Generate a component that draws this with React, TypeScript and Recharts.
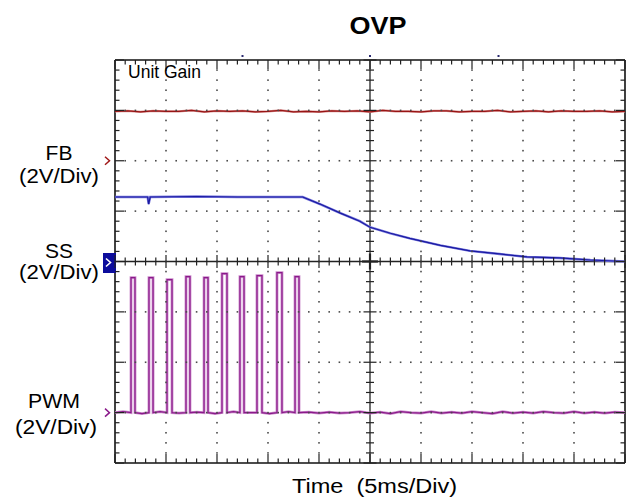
import React from 'react';
import {
  ComposedChart,
  Line,
  XAxis,
  YAxis,
  ReferenceLine,
  ReferenceDot
} from 'recharts';

const FONT = '"Liberation Sans", Arial, Helvetica, sans-serif';

// chart box and plot area (the chart margins below give this plot rectangle)
const W = 638;
const H = 502;
const PLOT = { left: 115, top: 60, right: 625, bottom: 463 };

// scope screen: 10 time divisions of 5 ms, 8 vertical divisions
const TIME_DIVS = [0, 5, 10, 15, 20, 25, 30, 35, 40, 45, 50];
const VOLT_DIVS = [0, 1, 2, 3, 4, 5, 6, 7, 8];

// channel ground markers (in divisions)
const FB_LEVEL = 6;
const SS_LEVEL = 4;
const PWM_LEVEL = 1;

// FB trace, sampled every 1.25 ms
const FB_STEP = 1.25;
const fbValues = [
  6.98, 6.99, 6.97, 6.99, 6.98, 6.98, 7.0, 6.97, 6.99, 6.98, 6.99,
  6.97, 6.98, 7.0, 6.97, 6.98, 6.97, 6.99, 6.98, 6.99, 6.97,
  7.0, 6.98, 6.98, 6.97, 6.99, 6.99, 6.97, 6.98, 6.98, 7.0,
  6.97, 6.98, 6.99, 6.97, 6.99, 6.98, 6.98, 6.99, 6.97, 6.98
];

// SS trace: flat, then discharges once PWM stops
const ssTimes = [0, 3.2, 3.3, 3.45, 8, 12, 18.4, 20.1, 22.1, 24, 25, 27, 28.9, 31.9, 34.8, 37.7, 40.4, 43.6, 46.6, 50];
const ssValues = [5.28, 5.28, 5.14, 5.28, 5.29, 5.28, 5.28, 5.14, 4.96, 4.8, 4.68, 4.56, 4.46, 4.32, 4.21, 4.15, 4.09, 4.07, 4.03, 4.0];

// PWM pulses (ms)
const pwmRise = [1.57, 3.33, 5.1, 6.96, 8.73, 10.49, 12.25, 13.92, 15.88, 17.65];
const pwmFall = [1.96, 3.73, 5.59, 7.35, 9.12, 10.98, 12.65, 14.41, 16.37, 18.04];
const pwmHigh = [3.68, 3.68, 3.64, 3.7, 3.68, 3.76, 3.7, 3.72, 3.78, 3.7];
const pwmGapLow = [1.02, 0.98, 1.02, 0.99, 1.01, 0.98, 1.02, 1.0, 0.98, 1.02];
const pwmTailTimes = [19, 20, 21, 22, 23, 24, 25, 26, 27, 28, 29, 30, 31, 32, 33, 34, 35, 36, 37, 38, 39, 40, 41, 42, 43, 44, 45, 46, 47, 48, 49, 50];
const pwmTailValues = [
  1.01, 0.99, 1.01, 0.99, 1.0, 1.02, 0.99, 1.01, 0.98, 1.02, 1.0,
  0.99, 1.02, 0.99, 1.01, 0.99, 1.02, 1.0, 0.98, 1.02, 0.99, 1.01,
  0.99, 1.02, 1.0, 0.99, 1.02, 0.99, 1.01, 0.99, 1.01, 1.0
];

const fbData = fbValues.map((v, i) => ({ t: i * FB_STEP, v }));
const ssData = ssTimes.map((t, i) => ({ t, v: ssValues[i] }));

const pwmData: { t: number; v: number }[] = [{ t: 0, v: PWM_LEVEL }];
pwmRise.forEach((rise, i) => {
  const prevFall = i === 0 ? 0 : pwmFall[i - 1];
  pwmData.push({ t: (prevFall + rise) / 2, v: pwmGapLow[i] });
  pwmData.push({ t: rise, v: PWM_LEVEL });
  pwmData.push({ t: rise, v: pwmHigh[i] });
  pwmData.push({ t: pwmFall[i], v: pwmHigh[i] });
  pwmData.push({ t: pwmFall[i], v: PWM_LEVEL });
});
pwmTailTimes.forEach((t, i) => pwmData.push({ t, v: pwmTailValues[i] }));

// dotted graticule: one dot per minor step on every inner division line
const gridDots: { t: number; v: number }[] = [];
TIME_DIVS.filter((t) => t !== 0 && t !== 25 && t !== 50).forEach((t) => {
  for (let j = 1; j < 40; j++) gridDots.push({ t, v: j / 5 });
});
VOLT_DIVS.filter((v) => v !== 0 && v !== 4 && v !== 8).forEach((v) => {
  for (let i = 1; i < 50; i++) if (i % 5 !== 0) gridDots.push({ t: i, v });
});

// graticule tick marks on the frame and the centre cross (minor every 1/5 division)
const graticuleTicks = () => {
  const out: React.ReactElement[] = [];
  const pw = PLOT.right - PLOT.left;
  const ph = PLOT.bottom - PLOT.top;
  const cx = PLOT.left + pw / 2;
  const cy = PLOT.top + ph / 2;
  for (let i = 0; i <= 50; i++) {
    const x = PLOT.left + (pw * i) / 50;
    const major = i % 5 === 0;
    const e = major ? 9 : 4.5;
    const c = major ? 6.5 : 4;
    out.push(<line key={`b${i}`} x1={x} y1={PLOT.bottom} x2={x} y2={PLOT.bottom - e} />);
    out.push(<line key={`t${i}`} x1={x} y1={PLOT.top} x2={x} y2={PLOT.top + e} />);
    out.push(<line key={`h${i}`} x1={x} y1={cy - c} x2={x} y2={cy + c} />);
  }
  for (let j = 0; j <= 40; j++) {
    const y = PLOT.bottom - (ph * j) / 40;
    const major = j % 5 === 0;
    const e = major ? 9 : 4.5;
    const c = major ? 6.5 : 4;
    out.push(<line key={`l${j}`} x1={PLOT.left} y1={y} x2={PLOT.left + e} y2={y} />);
    out.push(<line key={`r${j}`} x1={PLOT.right} y1={y} x2={PLOT.right - e} y2={y} />);
    out.push(<line key={`v${j}`} x1={cx - c} y1={y} x2={cx + c} y2={y} />);
  }
  out.push(<line key="cx1" x1={cx - 8} y1={cy} x2={cx + 8} y2={cy} strokeWidth={2.2} />);
  out.push(<line key="cx2" x1={cx} y1={cy - 8} x2={cx} y2={cy + 8} strokeWidth={2.2} />);
  return out;
};

const GridDot = (props: any) => {
  const { cx, cy } = props;
  const key = `gd-${cx}-${cy}`;
  if (cx == null || cy == null) return <g key={key} />;
  return <rect key={key} x={cx - 0.8} y={cy - 0.8} width={1.6} height={1.6} fill="#4a4a4a" />;
};

const Chevron = ({ cx, cy, color }: any) => (
  <polyline
    points={`${cx - 10},${cy - 4} ${cx - 5.5},${cy} ${cx - 10},${cy + 4}`}
    fill="none"
    stroke={color}
    strokeWidth={1.5}
  />
);

const SsMarker = ({ cx, cy }: any) => (
  <g>
    <rect x={cx - 12} y={cy - 8.5} width={13} height={20} fill="#0c0c9c" />
    <polyline
      points={`${cx - 9},${cy - 3} ${cx - 4.5},${cy + 1} ${cx - 9},${cy + 5}`}
      fill="none"
      stroke="#fff"
      strokeWidth={1.6}
    />
  </g>
);

const TrigDot = ({ cx, cy }: any) => (
  <rect x={cx - 1} y={cy - 5} width={2} height={2} fill="#2a2a70" />
);

const App: React.FC = () => {
  return (
    <div style={{ position: 'absolute', left: 0, top: 0, width: W, height: H, background: '#fff' }}>
      <ComposedChart
        width={W}
        height={H}
        margin={{ top: PLOT.top, right: W - PLOT.right, bottom: H - PLOT.bottom, left: PLOT.left }}
      >
        <XAxis dataKey="t" type="number" domain={[0, 50]} allowDataOverflow hide />
        <YAxis dataKey="v" type="number" domain={[0, 8]} allowDataOverflow hide />

        <Line data={gridDots} dataKey="v" stroke="none" dot={GridDot} isAnimationActive={false} />

        <ReferenceLine x={25} stroke="#222" strokeWidth={1.3} />
        <ReferenceLine y={4} stroke="#222" strokeWidth={1.3} />
        <ReferenceLine x={0} stroke="#111" strokeWidth={1.6} />
        <ReferenceLine x={50} stroke="#111" strokeWidth={1.6} />
        <ReferenceLine y={0} stroke="#111" strokeWidth={1.6} />
        <ReferenceLine y={8} stroke="#111" strokeWidth={1.6} />

        <Line data={fbData} dataKey="v" type="linear" stroke="#d89090" strokeWidth={2.2} dot={false} isAnimationActive={false} />
        <Line data={fbData} dataKey="v" type="linear" stroke="#981414" strokeWidth={1.2} dot={false} isAnimationActive={false} />

        <Line data={ssData} dataKey="v" type="linear" stroke="#7878dc" strokeWidth={2.4} dot={false} isAnimationActive={false} />
        <Line data={ssData} dataKey="v" type="linear" stroke="#1a1aa2" strokeWidth={1.2} dot={false} isAnimationActive={false} />

        <Line data={pwmData} dataKey="v" type="linear" stroke="#cc8ccc" strokeWidth={2.8} dot={false} isAnimationActive={false} />
        <Line data={pwmData} dataKey="v" type="linear" stroke="#8a1a8a" strokeWidth={1.2} dot={false} isAnimationActive={false} />

        <ReferenceDot x={0} y={FB_LEVEL} shape={(p: any) => <Chevron {...p} color="#a01818" />} />
        <ReferenceDot x={0} y={SS_LEVEL} shape={(p: any) => <SsMarker {...p} />} />
        <ReferenceDot x={0} y={PWM_LEVEL} shape={(p: any) => <Chevron {...p} color="#8a1a8a" />} />
        <ReferenceDot x={12.5} y={8} shape={(p: any) => <TrigDot {...p} />} />
        <ReferenceDot x={25} y={8} shape={(p: any) => <TrigDot {...p} />} />
        <ReferenceDot x={37.6} y={8} shape={(p: any) => <TrigDot {...p} />} />
      </ComposedChart>

      <svg
        width={W}
        height={H}
        style={{ position: 'absolute', left: 0, top: 0, pointerEvents: 'none' }}
        fontFamily={FONT}
        fill="#000"
      >
        <g stroke="#222" strokeWidth={1.2}>{graticuleTicks()}</g>

        <text x={378} y={34} textAnchor="middle" fontSize={24} fontWeight="bold" textLength={57} lengthAdjust="spacingAndGlyphs">OVP</text>
        <text x={128} y={78} fontSize={18.5} textLength={73} lengthAdjust="spacingAndGlyphs">Unit Gain</text>

        <text x={59} y={160} textAnchor="middle" fontSize={21}>FB</text>
        <text x={59} y={183} textAnchor="middle" fontSize={20} textLength={80} lengthAdjust="spacingAndGlyphs">(2V/Div)</text>

        <text x={59} y={258} textAnchor="middle" fontSize={21}>SS</text>
        <text x={59} y={279} textAnchor="middle" fontSize={20} textLength={80} lengthAdjust="spacingAndGlyphs">(2V/Div)</text>

        <text x={54} y={408} textAnchor="middle" fontSize={21} textLength={52} lengthAdjust="spacingAndGlyphs">PWM</text>
        <text x={56} y={434} textAnchor="middle" fontSize={20} textLength={82} lengthAdjust="spacingAndGlyphs">(2V/Div)</text>

        <text x={292} y={493} fontSize={20} textLength={165} lengthAdjust="spacingAndGlyphs" xmlSpace="preserve">Time  (5ms/Div)</text>
      </svg>
    </div>
  );
};

export default App;
